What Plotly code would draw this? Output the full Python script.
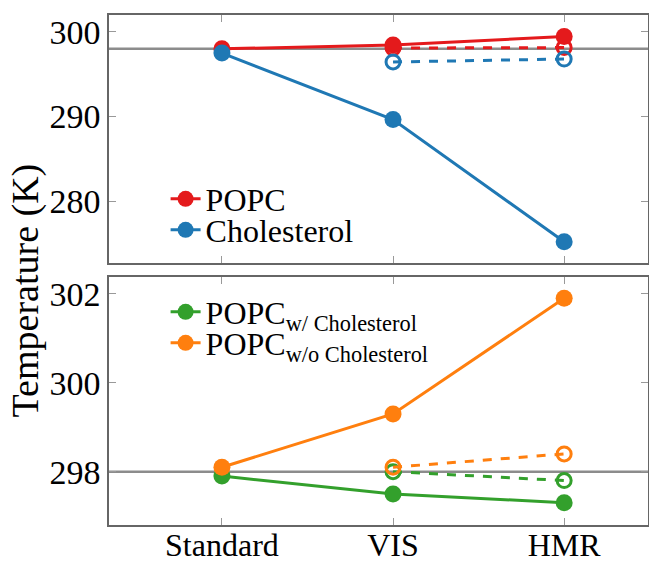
import plotly.graph_objects as go

categories = ["Standard", "VIS", "HMR"]
x_idx = [0, 1, 2]

popc = [298.0, 298.45, 299.45]
popc_dashed = [298.1, 298.15]
chol = [297.5, 289.65, 275.2]
chol_dashed = [296.45, 296.8]

popc_w = [297.9, 297.5, 297.3]
popc_w_dashed = [298.0, 297.8]
popc_wo = [298.1, 299.3, 301.9]
popc_wo_dashed = [298.1, 298.4]

ref_temp = 298.0

RED = "#e41a1c"
BLUE = "#1f78b4"
GREEN = "#33a02c"
ORANGE = "#ff7f0e"
FONT = "Liberation Serif"
FS_TICK = 34
FS_XTICK = 32
FS_LEG = 32
FS_TITLE = 38

fig = go.Figure()

def solid(x, y, color, name, xa, ya, legend):
    fig.add_trace(go.Scatter(x=x, y=y, mode="lines+markers", name=name,
                             line=dict(color=color, width=3),
                             marker=dict(color=color, size=17, symbol="circle"),
                             xaxis=xa, yaxis=ya, legend=legend))

def dashed(x, y, color, xa, ya):
    fig.add_trace(go.Scatter(x=x, y=y, mode="lines+markers", showlegend=False,
                             line=dict(color=color, width=3, dash="dash"),
                             marker=dict(color=color, size=14, symbol="circle-open",
                                         line=dict(color=color, width=3)),
                             xaxis=xa, yaxis=ya))

# top panel
dashed(x_idx[1:], popc_dashed, RED, "x", "y")
dashed(x_idx[1:], chol_dashed, BLUE, "x", "y")
solid(x_idx, popc, RED, "POPC", "x", "y", "legend")
solid(x_idx, chol, BLUE, "Cholesterol", "x", "y", "legend2")

# bottom panel
dashed(x_idx[1:], popc_w_dashed, GREEN, "x2", "y2")
dashed(x_idx[1:], popc_wo_dashed, ORANGE, "x2", "y2")
solid(x_idx, popc_w, GREEN, "POPC<sub>w/ Cholesterol</sub>", "x2", "y2", "legend3")
solid(x_idx, popc_wo, ORANGE, "POPC<sub>w/o Cholesterol</sub>", "x2", "y2", "legend4")

for yref in ["y", "y2"]:
    fig.add_shape(type="line", xref="x domain" if yref == "y" else "x2 domain",
                  yref=yref, x0=0, x1=1, y0=ref_temp, y1=ref_temp,
                  line=dict(color="#8c8c8c", width=2.5), layer="below")

axis_common = dict(showgrid=False, zeroline=False, showline=True, linecolor="#666666",
                   linewidth=1.5, mirror="ticks", ticks="inside", ticklen=7,
                   tickcolor="#999999", tickwidth=1.2, automargin=False)

xr = [-0.66, 2.49]
H = 510.0
def py(pix):
    return (525 - pix) / H

def leg(ycenter):
    return dict(x=0.105, y=py(ycenter), xanchor="left", yanchor="middle",
                bgcolor="rgba(0,0,0,0)", font=dict(family=FONT, size=FS_LEG),
                itemwidth=30)

ytf = dict(family=FONT, size=FS_TICK, color="black")
xtf = dict(family=FONT, size=FS_XTICK, color="black")

fig.update_layout(
    width=649, height=564,
    margin=dict(l=109, r=1, t=15, b=39, autoexpand=False),
    paper_bgcolor="white", plot_bgcolor="white",
    font=dict(family=FONT, size=FS_TICK, color="black"),
    xaxis=dict(domain=[0, 1], range=xr, tickvals=x_idx, ticktext=["", "", ""],
               anchor="y", tickfont=xtf, **axis_common),
    yaxis=dict(domain=[py(263), 1], range=[272.7, 302.0], tickvals=[280, 290, 300],
               anchor="x", tickfont=ytf, **axis_common),
    xaxis2=dict(domain=[0, 1], range=xr, tickvals=x_idx, ticktext=categories,
                anchor="y2", ticklabelstandoff=-9, tickfont=xtf, **axis_common),
    yaxis2=dict(domain=[0, py(277)], range=[296.8, 302.38], tickvals=[298, 300, 302],
                anchor="x2", tickfont=ytf, **axis_common),
    legend=leg(199),
    legend2=leg(230),
    legend3=leg(312),
    legend4=leg(343),
    showlegend=True,
)

fig.add_annotation(text="Temperature (K)", xref="paper", yref="paper",
                   x=-0.155, y=py(290), xanchor="center", yanchor="middle",
                   textangle=-90, showarrow=False,
                   font=dict(family=FONT, size=FS_TITLE, color="black"))

fig.write_html("out.html", config={"displayModeBar": False},
               post_script="document.body.style.margin='0';")
